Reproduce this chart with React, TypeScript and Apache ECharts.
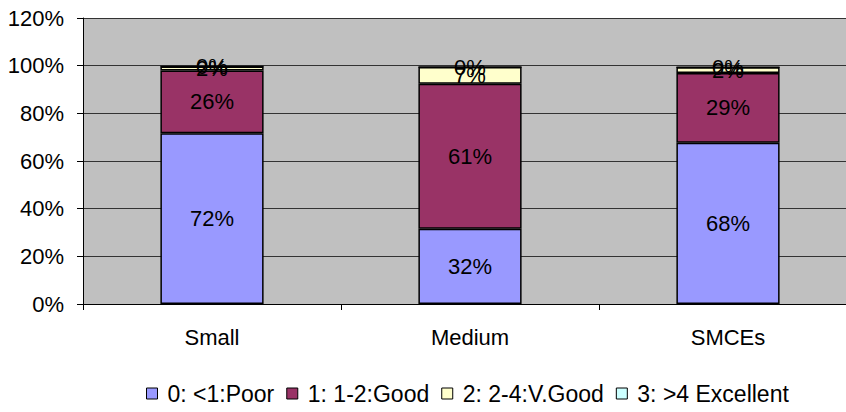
import React, { useEffect, useRef } from "react";
import * as echarts from "echarts";

const categories = ["Small", "Medium", "SMCEs"];
const seriesNames = ["0: <1:Poor", "1: 1-2:Good", "2: 2-4:V.Good", "3: >4 Excellent"];
const poor = [71.6, 31.6, 67.7];
const good = [26.4, 60.8, 29.2];
const vgood = [1.6, 7.0, 2.4];
const excellent = [0, 0, 0];
const yTicks = [0, 20, 40, 60, 80, 100, 120];
const colors = ["#9999FF", "#993366", "#FFFFCC", "#CCFFFF"];

const FONT = "Liberation Sans, Arial, sans-serif";

export default function App() {
  const ref = useRef<HTMLDivElement>(null);
  useEffect(() => {
    if (!ref.current) return;
    const chart = echarts.init(ref.current, undefined, { renderer: "svg" });
    const dataSets = [poor, good, vgood, excellent];
    chart.setOption({
      animation: false,
      textStyle: { fontFamily: FONT },
      grid: { left: 83, right: 0, top: 18, bottom: 108, show: true, backgroundColor: "#C0C0C0", borderWidth: 0 },
      legend: {
        bottom: 2,
        left: 141,
        itemWidth: 11,
        itemHeight: 11,
        itemGap: 12,
        icon: "rect",
        textStyle: { fontSize: 23, color: "#000", fontFamily: FONT, padding: [0, 0, 0, 5] },
        data: seriesNames.map((n, i) => ({ name: n, itemStyle: { color: colors[i], borderColor: "#000", borderWidth: 1 } })),
      },
      xAxis: {
        type: "category",
        data: categories,
        axisLine: { lineStyle: { color: "#000", width: 1 } },
        axisTick: { show: true, length: 6, lineStyle: { color: "#000" } },
        axisLabel: { fontSize: 22, color: "#000", margin: 22 },
      },
      yAxis: {
        type: "value",
        min: yTicks[0],
        max: yTicks[yTicks.length - 1],
        interval: 20,
        axisLine: { show: true, lineStyle: { color: "#000", width: 1 } },
        axisTick: { show: true, length: 6, lineStyle: { color: "#000" } },
        axisLabel: { fontSize: 22, color: "#000", margin: 19, formatter: (v: number) => v + "%" },
        splitLine: { show: true, lineStyle: { color: "#333", width: 1 } },
      },
      series: seriesNames.map((name, i) => ({
        name,
        type: "bar",
        stack: "total",
        barWidth: "40%",
        data: dataSets[i],
        itemStyle: { color: colors[i], borderColor: "#000", borderWidth: 1.5 },
        label: {
          show: true,
          position: "inside",
          fontSize: 22,
          color: "#000",
          formatter: (p: any) => Math.round(p.value) + "%",
        },
      })),
    });
    return () => chart.dispose();
  }, []);
  return (
    <div style={{ width: 846, height: 412, position: "absolute", left: 0, top: 0, overflow: "hidden" }}>
      <div ref={ref} style={{ width: 857, height: 412 }} />
    </div>
  );
}
